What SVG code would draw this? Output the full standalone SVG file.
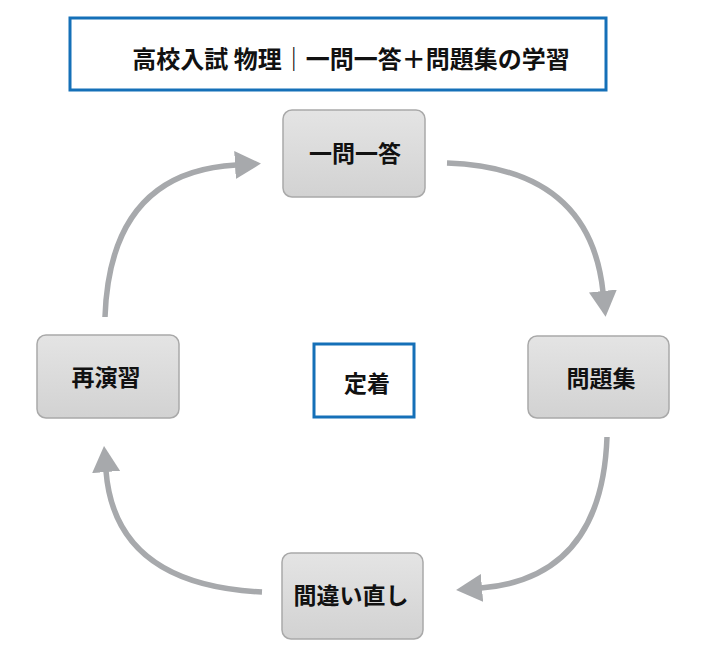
<svg xmlns="http://www.w3.org/2000/svg" width="727" height="658" viewBox="0 0 727 658">
<style>
text{font-family:"Noto Sans CJK JP","Noto Sans",sans-serif;font-weight:700;fill:#111;text-anchor:middle;dominant-baseline:central}
.n{fill:url(#g);stroke:#a9a9a9;stroke-width:1.5}
.b{fill:#fff;stroke:#1570b8;stroke-width:3}
.c{fill:none;stroke:#a7a9ac;stroke-width:5.5;marker-end:url(#ah)}
</style>
<defs>
<linearGradient id="g" x1="0" y1="0" x2="0" y2="1"><stop offset="0" stop-color="#e4e4e4"/><stop offset="1" stop-color="#d2d2d2"/></linearGradient>
<marker id="ah" viewBox="0 0 26 28" refX="1" refY="14" markerWidth="26" markerHeight="28" markerUnits="userSpaceOnUse" orient="auto"><path d="M0,0 L26,14 L0,28 z" fill="#a7a9ac"/></marker>
</defs>
<rect width="727" height="658" fill="#fff"/>
<g id="title"><rect class="b" x="70" y="18" width="536" height="72"/><text x="351" y="57" font-size="24">高校入試 物理｜一問一答＋問題集の学習</text></g>
<g id="connectors">
<path class="c" d="M447,163 Q590,168 603,292"/>
<path class="c" d="M607,437 Q602,578 481,588"/>
<path class="c" d="M262,592 Q115,585 106,471"/>
<path class="c" d="M105,317 Q110,172 236,165"/>
</g>
<g id="n1"><rect class="n" x="283" y="110" width="142" height="87" rx="9"/><text x="355" y="152" font-size="23">一問一答</text></g>
<g id="n2"><rect class="n" x="528" y="336" width="141" height="82" rx="9"/><text x="601" y="377" font-size="23">問題集</text></g>
<g id="n3"><rect class="n" x="282" y="553" width="141" height="86" rx="9"/><text x="351" y="594" font-size="23">間違い直し</text></g>
<g id="n4"><rect class="n" x="37" y="335" width="142" height="83" rx="9"/><text x="106" y="376" font-size="23">再演習</text></g>
<g id="center"><rect class="b" x="314" y="344" width="100" height="73"/><text x="367" y="382" font-size="23">定着</text></g>
</svg>
